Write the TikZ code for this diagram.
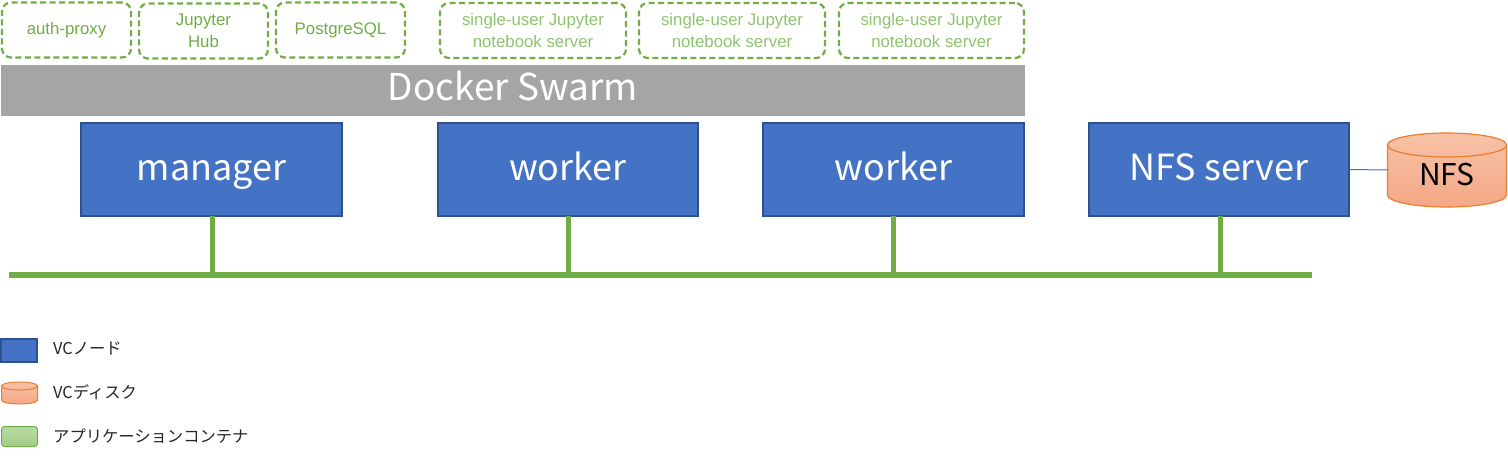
\documentclass[tikz,border=0pt]{standalone}
\usepackage{fontspec}
\setmainfont{Liberation Sans}
\newfontfamily\jpfont{Noto Sans CJK JP}
\usetikzlibrary{positioning}
\definecolor{vcblue}{HTML}{4472C4}
\definecolor{vcblueline}{HTML}{2F528F}
\definecolor{appgreen}{HTML}{70AD47}
\definecolor{apptext}{HTML}{70AD47}
\definecolor{apptextlight}{HTML}{8FC46F}
\definecolor{swarmgray}{HTML}{A5A5A5}
\definecolor{diskline}{HTML}{ED7D31}
\definecolor{disktop}{HTML}{F7C2A6}
\definecolor{diskbot}{HTML}{F4A886}
\definecolor{legtop}{HTML}{B9DAA4}
\definecolor{legbot}{HTML}{A2CC86}
\definecolor{legtext}{HTML}{262626}
\begin{document}
\begin{tikzpicture}[x=1pt,y=1pt,
  container/.style={draw=appgreen, line width=2.2pt, dash pattern=on 6pt off 3.5pt,
    rounded corners=9pt, inner sep=0pt, outer sep=0pt, align=center,
    font=\fontsize{16.8}{22}\selectfont, text=apptext},
  sucontainer/.style={container, text=apptextlight},
  vcnode/.style={draw=vcblueline, fill=vcblue, line width=2pt, inner sep=0pt, outer sep=0pt,
    minimum height=93pt, text=white, text height=27pt, text depth=6pt,
    font=\jpfont\fontsize{36}{36}\selectfont},
  bus/.style={draw=appgreen, line width=5.5pt},
  drop/.style={draw=appgreen, line width=5pt},
  legtext/.style={anchor=west, inner sep=0pt, text=legtext, font=\jpfont\fontsize{16.3}{16.3}\selectfont}
]
\useasboundingbox (0,0) rectangle (1508,456);
\fill[white] (0,0) rectangle (1508,456);

% containers
\node[container, minimum width=129pt, minimum height=55pt] (auth) at (66.5,426) {auth-proxy};
\node[container, minimum width=129pt, minimum height=55pt] (hub) at (203.5,425) {Jupyter\\Hub};
\node[container, minimum width=129pt, minimum height=55pt] (pg) at (340.5,426) {PostgreSQL};
\node[sucontainer, minimum width=186pt, minimum height=55pt] (su1) at (533,425.5) {single-user Jupyter\\notebook server};
\node[sucontainer, minimum width=186pt, minimum height=55pt] (su2) at (732,425.5) {single-user Jupyter\\notebook server};
\node[sucontainer, minimum width=185pt, minimum height=55pt] (su3) at (931.5,425.5) {single-user Jupyter\\notebook server};

% docker swarm
\node[fill=swarmgray, minimum width=1024pt, minimum height=51pt, inner sep=0pt, outer sep=0pt,
  text=white, text height=28pt, text depth=8pt, font=\jpfont\fontsize{37}{37}\selectfont] (swarm) at (513,365.5) {Docker Swarm};

% VC nodes
\node[vcnode, minimum width=261pt] (manager) at (211.5,286.5) {manager};
\node[vcnode, minimum width=260pt] (worker1) at (568,286.5) {worker};
\node[vcnode, minimum width=261pt] (worker2) at (893.5,286.5) {worker};
\node[vcnode, minimum width=260pt] (nfsserver) at (1219,286.5) {NFS server};

% network bus
\coordinate (busL) at (9,181);
\coordinate (busR) at (1312,181);
\draw[bus] (busL) -- (busR);
\draw[drop] ([xshift=0.5pt]manager.south) -- ([xshift=0.5pt]manager.south |- busL);
\draw[drop] (worker1.south) -- (worker1.south |- busL);
\draw[drop] ([xshift=-0.5pt]worker2.south) -- ([xshift=-0.5pt]worker2.south |- busL);
\draw[drop] ([xshift=1pt]nfsserver.south) -- ([xshift=1pt]nfsserver.south |- busL);

% NFS disk
\fill[top color=disktop, bottom color=diskbot] (1387.5,311) -- (1387.5,261) arc (180:360:59.5 and 12)
  -- (1506.5,311) arc (0:180:59.5 and 12) -- cycle;
\draw[diskline, line width=1.2pt] (1387.5,311) -- (1387.5,261) arc (180:360:59.5 and 12) -- (1506.5,311);
\draw[diskline, line width=1.2pt] (1447,311) ellipse (59.5 and 12);
\node[inner sep=0pt, outer sep=0pt, minimum width=119pt, minimum height=74pt] (nfsdisk) at (1447,286) {};
\node[inner sep=0pt, text=black, font=\jpfont\fontsize{30}{30}\selectfont] (nfslabel) at (1447,281) {NFS};
\draw[vcblue, line width=1pt] (nfsserver.east) -- (nfsdisk.west);

% legend
\node[draw=vcblueline, fill=vcblue, line width=2pt, minimum width=36pt, minimum height=23pt,
  inner sep=0pt, outer sep=0pt] (legnode) at (19,106) {};
\node[legtext] (legnodetext) at (53,107) {VCノード};

\fill[top color=disktop, bottom color=diskbot] (1.5,70) -- (1.5,56) arc (180:360:18 and 4)
  -- (37.5,70) arc (0:180:18 and 4) -- cycle;
\draw[diskline, line width=1pt] (1.5,70) -- (1.5,56) arc (180:360:18 and 4) -- (37.5,70);
\draw[diskline, line width=1pt] (19.5,70) ellipse (18 and 4);
\node[inner sep=0pt, minimum width=36pt, minimum height=22pt] (legdisk) at (19.5,63) {};
\node[legtext] (legdisktext) at (53,64) {VCディスク};

\node[draw=appgreen, line width=1pt, top color=legtop, bottom color=legbot, rounded corners=3pt,
  minimum width=36pt, minimum height=20pt, inner sep=0pt, outer sep=0pt] (legapp) at (19.5,19.5) {};
\node[legtext] (legapptext) at (53,20) {アプリケーションコンテナ};
\end{tikzpicture}
\end{document}
